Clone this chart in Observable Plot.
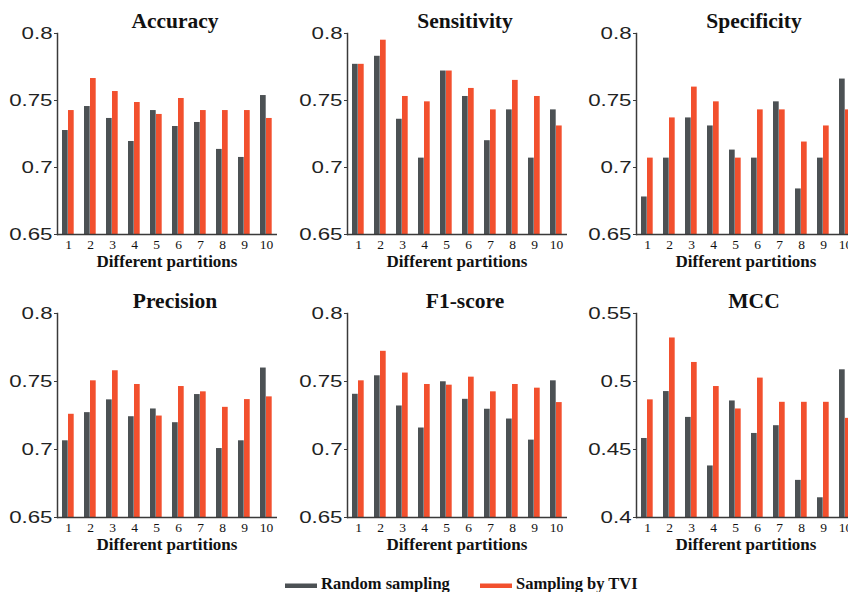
<!DOCTYPE html>
<html><head><meta charset="utf-8">
<script src="https://cdn.jsdelivr.net/npm/d3@7"></script>
<script src="https://cdn.jsdelivr.net/npm/@observablehq/plot@0.6"></script>
<style>
body{margin:0;background:#fff;}
#wrap{position:relative;width:848px;height:592px;overflow:hidden;background:#fff;}
#wrap svg{position:absolute;}
</style></head><body><div id="wrap"></div>
<script>
// ---- data ----
const partitions = ["1","2","3","4","5","6","7","8","9","10"];
const seriesNames = ["Random sampling", "Sampling by TVI"];
const titles = ["Accuracy","Sensitivity","Specificity","Precision","F1-score","MCC"];
const xAxisLabel = "Different partitions";

const accuracyRandom = [0.7276,0.7455,0.7366,0.7194,0.7425,0.7306,0.7336,0.7135,0.7075,0.7537];
const accuracyTVI    = [0.7425,0.7664,0.7567,0.7485,0.7396,0.7515,0.7425,0.7425,0.7425,0.7366];
const sensitivityRandom = [0.777,0.783,0.736,0.707,0.772,0.753,0.720,0.743,0.707,0.743];
const sensitivityTVI    = [0.777,0.795,0.753,0.749,0.772,0.759,0.743,0.765,0.753,0.731];
const specificityRandom = [0.678,0.707,0.737,0.731,0.713,0.707,0.749,0.684,0.707,0.766];
const specificityTVI    = [0.707,0.737,0.760,0.749,0.707,0.743,0.743,0.719,0.731,0.743];
const precisionRandom = [0.7064,0.7271,0.7365,0.7241,0.7298,0.7197,0.7404,0.7007,0.7064,0.7599];
const precisionTVI    = [0.7259,0.7505,0.7579,0.7478,0.7246,0.7463,0.7424,0.7310,0.7367,0.7387];
const f1Random = [0.7406,0.7542,0.7320,0.7158,0.7498,0.7369,0.7296,0.7224,0.7069,0.7505];
const f1TVI    = [0.7505,0.7722,0.7562,0.7478,0.7473,0.7532,0.7424,0.7478,0.7451,0.7345];
const mccRandom = [0.4581,0.4926,0.4736,0.4379,0.4857,0.4618,0.4675,0.4273,0.4145,0.5086];
const mccTVI    = [0.4865,0.5320,0.5140,0.4963,0.4798,0.5025,0.4847,0.4847,0.4847,0.4729];

const yTicksMain = [0.65, 0.7, 0.75, 0.8];
const yTicksMCC  = [0.4, 0.45, 0.5, 0.55];

const randomSeries = [accuracyRandom, sensitivityRandom, specificityRandom, precisionRandom, f1Random, mccRandom];
const tviSeries    = [accuracyTVI, sensitivityTVI, specificityTVI, precisionTVI, f1TVI, mccTVI];
const tickSets     = [yTicksMain, yTicksMain, yTicksMain, yTicksMain, yTicksMain, yTicksMCC];

// ---- layout / style ----
const GRAY = "#4c5154", RED = "#f2502e", AXIS = "#3a3a3a";
const colLeft = [0, 290, 579];
const rowTop = [0, 280];
const rowInnerH = [201, 204];
const W = 290, H = 280, ML = 57, MR = 13, MT = 33;

const wrap = document.getElementById("wrap");

titles.forEach((title, k) => {
  const col = k % 3, row = Math.floor(k / 3);
  const ticks = tickSets[k];
  const ymin = ticks[0], ymax = ticks[ticks.length - 1];
  const data = partitions.map((p, i) => ({p, r: randomSeries[k][i], t: tviSeries[k][i]}));
  const innerH = rowInnerH[row];
  const chart = Plot.plot({
    width: W, height: H,
    marginLeft: ML, marginRight: MR, marginTop: MT, marginBottom: H - MT - innerH,
    style: {background: "transparent", overflow: "visible"},
    x: {domain: partitions, padding: 0, label: null},
    y: {domain: [ymin, ymax], label: null},
    marks: [
      Plot.barY(data, {x: "p", y1: () => ymin, y2: "r", fill: GRAY, insetLeft: 5, insetRight: 11.3}),
      Plot.barY(data, {x: "p", y1: () => ymin, y2: "t", fill: RED, insetLeft: 11, insetRight: 5.3}),
      Plot.ruleY([ymin], {stroke: AXIS, strokeWidth: 1.5}),
      Plot.frame({anchor: "left", stroke: AXIS, strokeWidth: 1.5}),
      Plot.axisX({tickSize: 0, tickPadding: 5, fontSize: 13.5, fontFamily: "Liberation Serif", fill: "#111", label: null}),
      Plot.axisY({ticks, tickFormat: d => String(d), tickSize: 3, tickPadding: 2, fontSize: 16.5,
                  fontFamily: "Liberation Sans", fill: "#222", stroke: AXIS, label: null})
    ]
  });
  chart.style.left = colLeft[col] + "px";
  chart.style.top = rowTop[row] + "px";
  const s = d3.select(chart);
  s.append("text")
    .attr("x", ML + (W - ML - MR) / 2 + 8).attr("y", 28)
    .attr("text-anchor", "middle")
    .attr("font-family", "Liberation Serif").attr("font-weight", "bold").attr("font-size", 21.5)
    .attr("fill", "#111").text(title);
  s.append("text")
    .attr("x", ML + (W - ML - MR) / 2).attr("y", MT + innerH + 33)
    .attr("text-anchor", "middle")
    .attr("font-family", "Liberation Serif").attr("font-weight", "bold").attr("font-size", 17)
    .attr("fill", "#111").text(xAxisLabel);
  wrap.appendChild(chart);
  // horizontally stretched sans tick labels like the reference
  s.selectAll('g[aria-label="y-axis tick label"] text').each(function() {
    const len = this.getComputedTextLength();
    this.setAttribute("textLength", len * 1.35);
    this.setAttribute("lengthAdjust", "spacingAndGlyphs");
  });
});

// ---- legend ----
const leg = d3.select(wrap).append("svg")
  .attr("width", 848).attr("height", 592).style("left", "0px").style("top", "0px");
const legItems = [
  {name: seriesNames[0], color: GRAY, x: 285},
  {name: seriesNames[1], color: RED, x: 480}
];
legItems.forEach(it => {
  leg.append("rect").attr("x", it.x).attr("y", 583.5).attr("width", 32).attr("height", 4.5).attr("fill", it.color);
  leg.append("text").attr("x", it.x + 36).attr("y", 589)
    .attr("font-family", "Liberation Serif").attr("font-weight", "bold").attr("font-size", 16.5)
    .attr("fill", "#111").text(it.name);
});
</script></body></html>
